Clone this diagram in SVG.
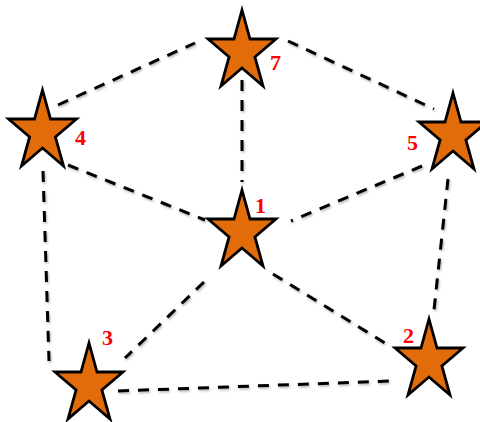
<svg xmlns="http://www.w3.org/2000/svg" xmlns:xlink="http://www.w3.org/1999/xlink" width="480" height="422" viewBox="0 0 480 422">
<style>
.star{fill:#E36C0A;stroke:#000;stroke-width:2.8;stroke-linejoin:miter}
.edge{stroke:#000;stroke-width:3;stroke-dasharray:11 9;fill:none}
.lbl{font-family:"Liberation Serif",serif;font-weight:bold;font-size:22px;fill:#FF0000}
</style>
<defs>
<path id="star" d="M0,-42 L8,-13 L34,-13 L12.9,4.9 L21,34 L0,16 L-21,34 L-12.9,4.9 L-34,-13 L-8,-13 Z"/>
<filter id="sh" x="-10%" y="-10%" width="120%" height="130%">
<feDropShadow dx="1" dy="1.5" stdDeviation="1" flood-color="#000" flood-opacity="0.3"/>
</filter>
</defs>
<rect width="480" height="422" fill="#fff"/>
<g id="connectors" filter="url(#sh)">
<line class="edge" x1="58" y1="105" x2="195" y2="43"/>
<line class="edge" x1="288" y1="41" x2="434" y2="109"/>
<line class="edge" x1="242" y1="80" x2="242" y2="182"/>
<line class="edge" x1="68" y1="165" x2="205" y2="220"/>
<line class="edge" x1="422" y1="166" x2="291" y2="221"/>
<line class="edge" x1="43" y1="171" x2="49" y2="361"/>
<line class="edge" x1="448" y1="179" x2="434" y2="310"/>
<line class="edge" x1="204" y1="282" x2="125" y2="358"/>
<line class="edge" x1="273" y1="274" x2="385" y2="343"/>
<line class="edge" x1="118" y1="391" x2="390" y2="381"/>
</g>
<g id="node7"><use xlink:href="#star" class="star" x="242" y="52"/><text class="lbl" x="270" y="70">7</text></g>
<g id="node4"><use xlink:href="#star" class="star" x="42.5" y="132"/><text class="lbl" x="75" y="145">4</text></g>
<g id="node5"><use xlink:href="#star" class="star" x="453" y="135"/><text class="lbl" x="407" y="150">5</text></g>
<g id="node1"><use xlink:href="#star" class="star" x="242" y="232"/><text class="lbl" x="255" y="213">1</text></g>
<g id="node3"><use xlink:href="#star" class="star" x="89" y="385"/><text class="lbl" x="102" y="345">3</text></g>
<g id="node2"><use xlink:href="#star" class="star" x="429" y="361"/><text class="lbl" x="403" y="343">2</text></g>
</svg>
